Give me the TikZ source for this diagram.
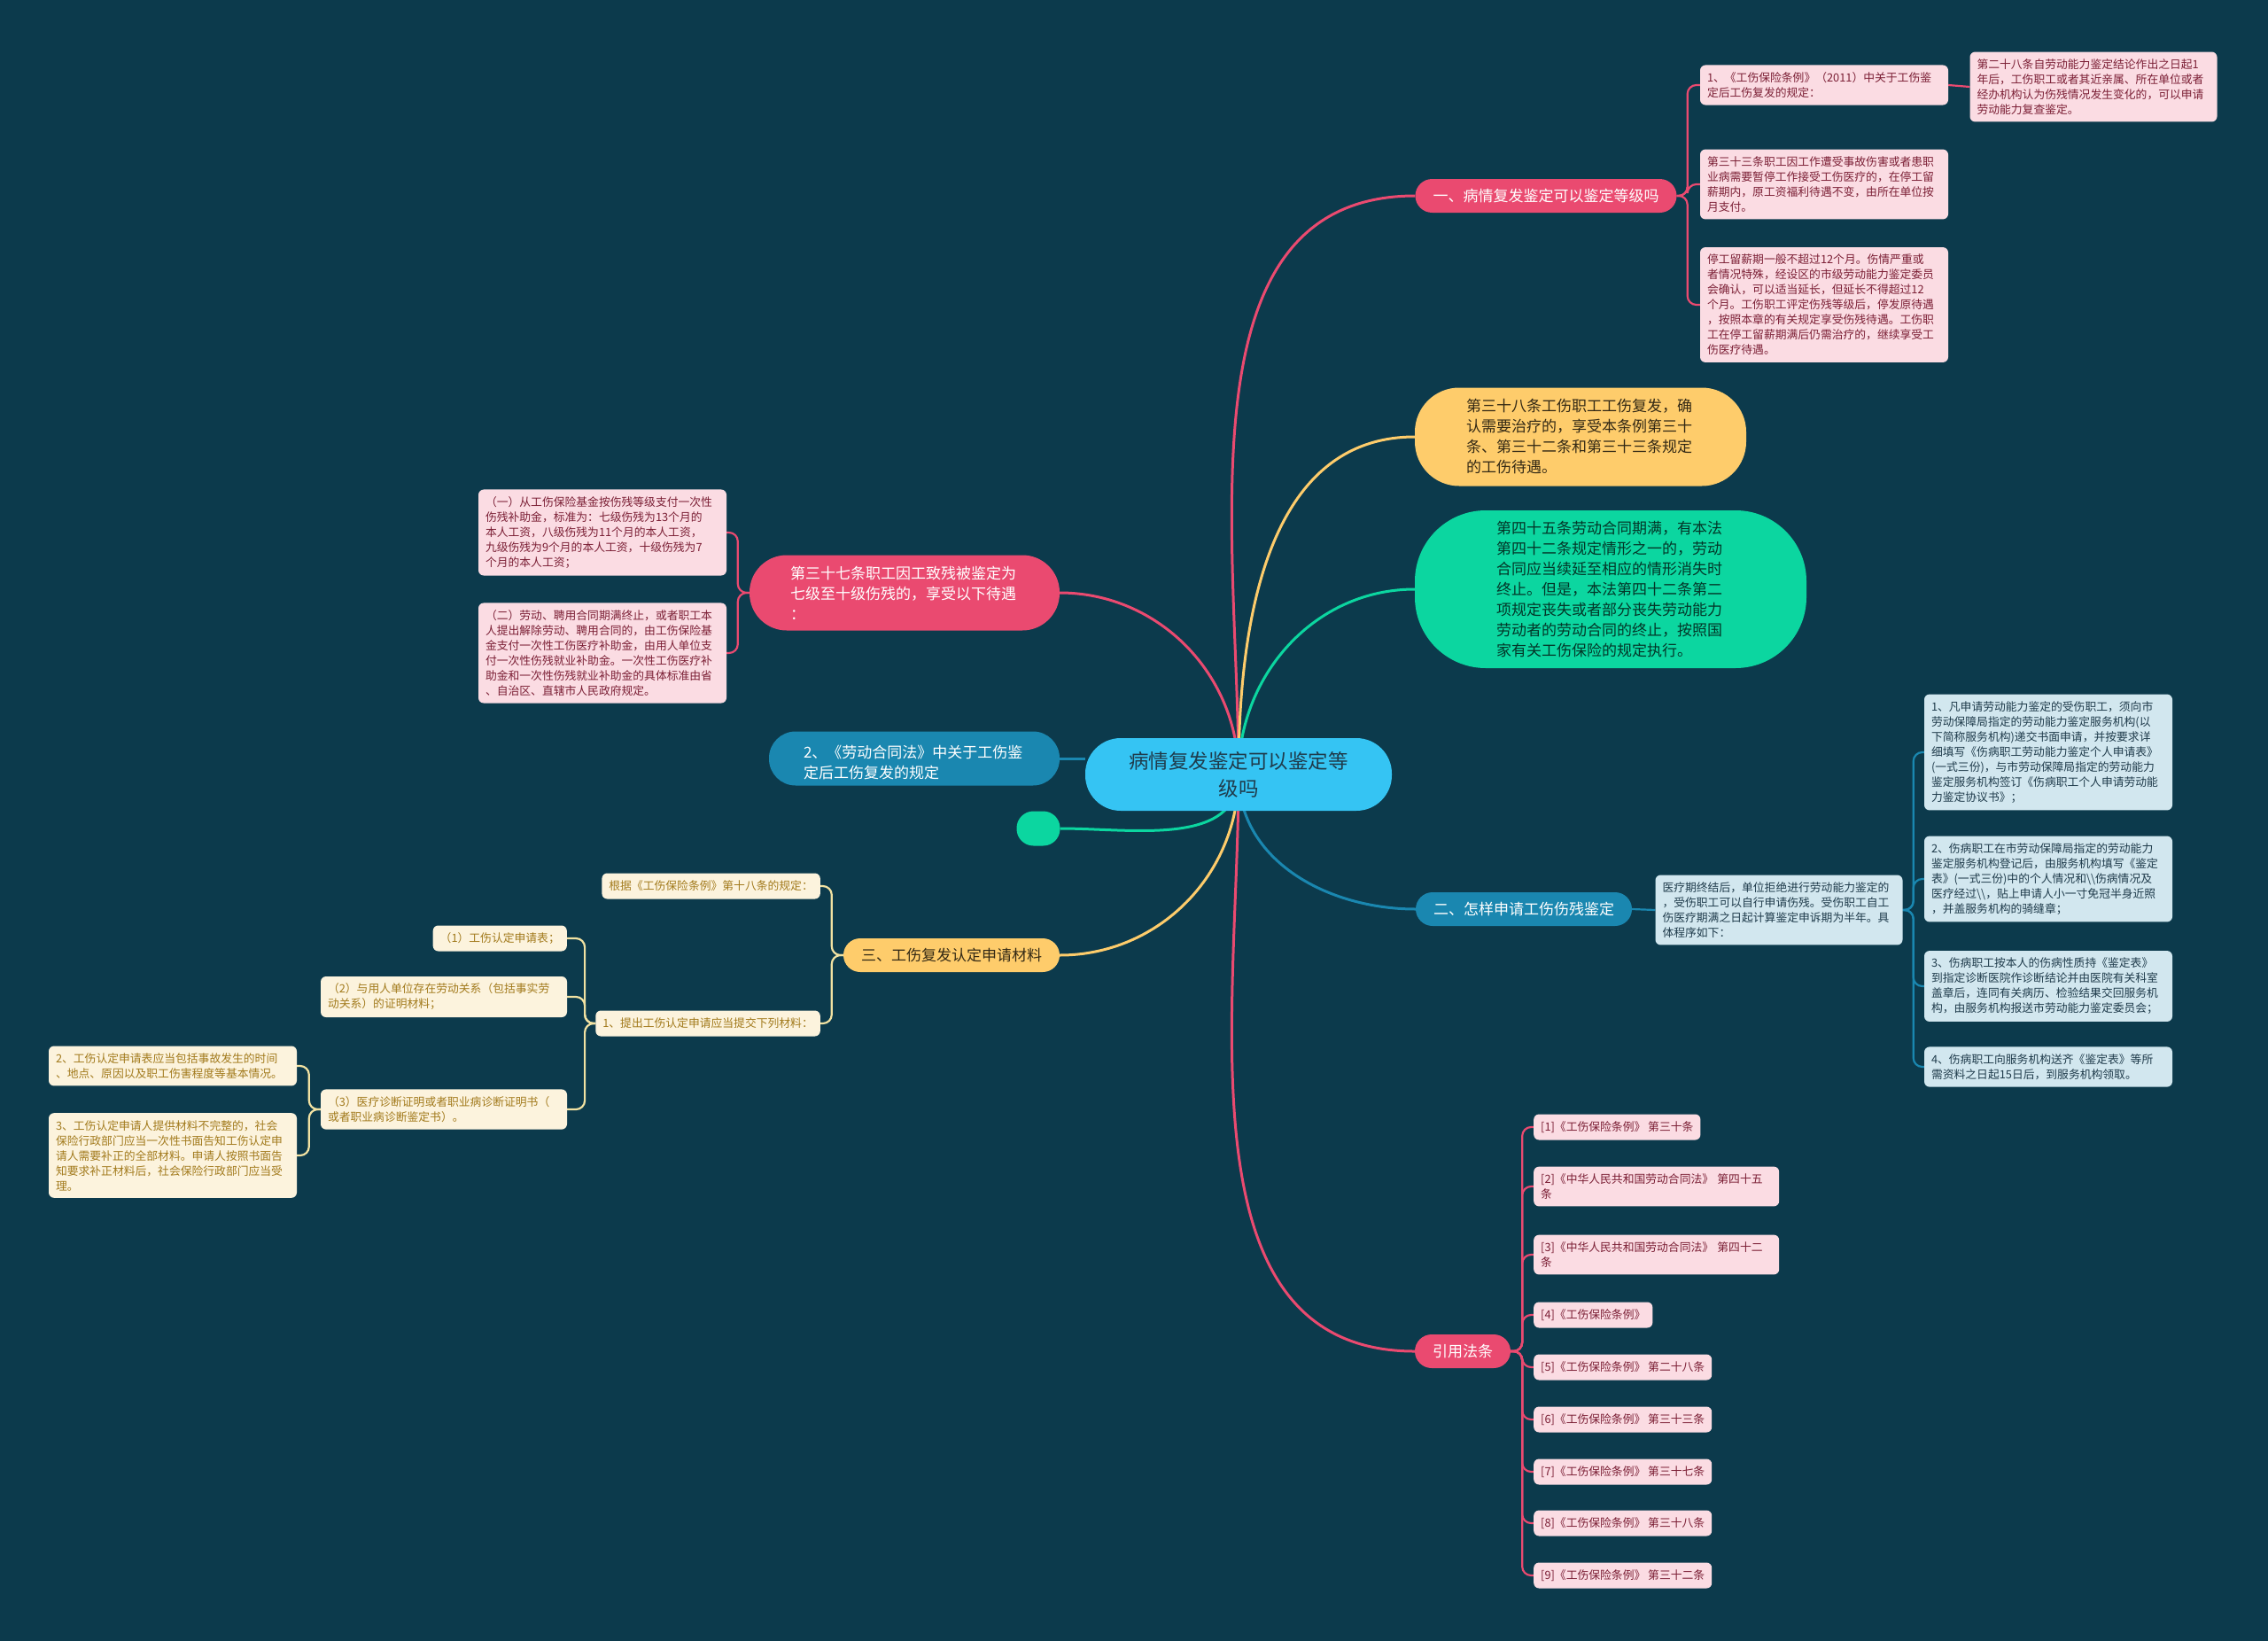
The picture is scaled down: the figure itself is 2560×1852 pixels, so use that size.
\documentclass[tikz,border=0pt]{standalone}
\usepackage{fontspec}
\setmainfont{Noto Sans CJK SC}
\pgfdeclarelayer{bgLayer}
\pgfdeclarelayer{edgeLayer}
\pgfsetlayers{bgLayer,edgeLayer,main}
\definecolor{bgColor}{HTML}{0C3A4C}
\definecolor{pinkMain}{HTML}{EA4A70}
\definecolor{pinkFill}{HTML}{FBDCE3}
\definecolor{pinkText}{HTML}{7B1F35}
\definecolor{yellowMain}{HTML}{FECC6B}
\definecolor{yellowLine}{HTML}{F2E2A2}
\definecolor{creamFill}{HTML}{FCF3DD}
\definecolor{creamText}{HTML}{A27A1C}
\definecolor{greenMain}{HTML}{0CD6A0}
\definecolor{blueMain}{HTML}{1A87B0}
\definecolor{blueFill}{HTML}{D2E7EF}
\definecolor{blueText}{HTML}{1F3B4B}
\definecolor{centerFill}{HTML}{35C4F3}
\newcommand{\boxFont}{\fontsize{12.8}{17}\selectfont}
\newcommand{\topicFont}{\fontsize{17}{23}\selectfont}
\newcommand{\rootFont}{\fontsize{22.5}{31}\selectfont}

\begin{document}
\begin{tikzpicture}[x=1pt,y=1pt]
\tikzstyle{smallBox}=[font=\boxFont, inner xsep=8pt, inner ysep=8pt, rounded corners=6pt, minimum height=29pt, align=left]
\tikzstyle{pinkBox}=[smallBox, fill=pinkFill, text=pinkText]
\tikzstyle{blueBox}=[smallBox, fill=blueFill, text=blueText]
\tikzstyle{creamBox}=[smallBox, fill=creamFill, text=creamText]
\tikzstyle{topicPill}=[font=\topicFont, inner xsep=20pt, inner ysep=8pt, minimum height=38pt, rounded corners=19pt]
\tikzstyle{pinkLine}=[draw=pinkMain, line width=2.2pt, rounded corners=10pt]
\tikzstyle{blueLine}=[draw=blueMain, line width=2.2pt, rounded corners=10pt]
\tikzstyle{creamLine}=[draw=yellowLine, line width=2.2pt, rounded corners=10pt]
\tikzstyle{mainLine}=[line width=3pt]
\useasboundingbox (0,0) rectangle (2560,-1852);
\begin{pgfonlayer}{bgLayer}
\fill[bgColor] (0,0) rectangle (2560,-1852);
\end{pgfonlayer}

\node[fill=centerFill, text=blueText, font=\rootFont, text width=250pt, align=center, inner xsep=48pt, minimum height=82pt, rounded corners=40pt] (root) at (1398,-874) {病情复发鉴定可以鉴定等\\级吗};

\node[topicPill, fill=pinkMain, text=white] (t1) at (1745,-221) {一、病情复发鉴定可以鉴定等级吗};
\node[pinkBox, text width=264pt] (t1a) at (2059,-96) {1、《工伤保险条例》（2011）中关于工伤鉴\\定后工伤复发的规定：};
\node[pinkBox, text width=263pt] (t1aa) at (2363,-98) {第二十八条自劳动能力鉴定结论作出之日起1\\年后，工伤职工或者其近亲属、所在单位或者\\经办机构认为伤残情况发生变化的，可以申请\\劳动能力复查鉴定。};
\node[pinkBox, text width=264pt] (t1b) at (2059,-208) {第三十三条职工因工作遭受事故伤害或者患职\\业病需要暂停工作接受工伤医疗的，在停工留\\薪期内，原工资福利待遇不变，由所在单位按\\月支付。};
\node[pinkBox, text width=264pt] (t1c) at (2059,-344) {停工留薪期一般不超过12个月。伤情严重或\\者情况特殊，经设区的市级劳动能力鉴定委员\\会确认，可以适当延长，但延长不得超过12\\个月。工伤职工评定伤残等级后，停发原待遇\\，按照本章的有关规定享受伤残待遇。工伤职\\工在停工留薪期满后仍需治疗的，继续享受工\\伤医疗待遇。};

\node[fill=yellowMain, text=black!80!yellowMain, font=\topicFont, text width=258pt, align=left, inner xsep=58pt, minimum height=111pt, rounded corners=50pt] (t2) at (1784,-493) {第三十八条工伤职工工伤复发，确\\认需要治疗的，享受本条例第三十\\条、第三十二条和第三十三条规定\\的工伤待遇。};
\node[fill=greenMain, text=black!75!greenMain, font=\topicFont, text width=258pt, align=left, inner xsep=92pt, minimum height=178pt, rounded corners=80pt] (t3) at (1818,-665) {第四十五条劳动合同期满，有本法\\第四十二条规定情形之一的，劳动\\合同应当续延至相应的情形消失时\\终止。但是，本法第四十二条第二\\项规定丧失或者部分丧失劳动能力\\劳动者的劳动合同的终止，按照国\\家有关工伤保险的规定执行。};

\node[topicPill, fill=blueMain, text=white] (t4) at (1720,-1026) {二、怎样申请工伤伤残鉴定};
\node[blueBox, text width=263pt] (t4a) at (2008,-1027) {医疗期终结后，单位拒绝进行劳动能力鉴定的\\，受伤职工可以自行申请伤残。受伤职工自工\\伤医疗期满之日起计算鉴定申诉期为半年。具\\体程序如下：};
\node[blueBox, text width=264pt] (s1) at (2312,-849) {1、凡申请劳动能力鉴定的受伤职工，须向市\\劳动保障局指定的劳动能力鉴定服务机构(以\\下简称服务机构)递交书面申请，并按要求详\\细填写《伤病职工劳动能力鉴定个人申请表》\\(一式三份)，与市劳动保障局指定的劳动能力\\鉴定服务机构签订《伤病职工个人申请劳动能\\力鉴定协议书》；};
\node[blueBox, text width=264pt] (s2) at (2312,-992) {2、伤病职工在市劳动保障局指定的劳动能力\\鉴定服务机构登记后，由服务机构填写《鉴定\\表》(一式三份)中的个人情况和{\textbackslash\textbackslash}伤病情况及\\医疗经过{\textbackslash\textbackslash}，贴上申请人小一寸免冠半身近照\\，并盖服务机构的骑缝章；};
\node[blueBox, text width=264pt] (s3) at (2312,-1113) {3、伤病职工按本人的伤病性质持《鉴定表》\\到指定诊断医院作诊断结论并由医院有关科室\\盖章后，连同有关病历、检验结果交回服务机\\构，由服务机构报送市劳动能力鉴定委员会；};
\node[blueBox, text width=264pt] (s4) at (2312,-1204) {4、伤病职工向服务机构送齐《鉴定表》等所\\需资料之日起15日后，到服务机构领取。};

\node[topicPill, fill=pinkMain, text=white] (t5) at (1651,-1525) {引用法条};
\node[pinkBox, anchor=west] (ref1) at (1731,-1272) {[1]《工伤保险条例》 第三十条};
\node[pinkBox, anchor=west, text width=261pt] (ref2) at (1731,-1339) {[2]《中华人民共和国劳动合同法》 第四十五\\条};
\node[pinkBox, anchor=west, text width=261pt] (ref3) at (1731,-1416) {[3]《中华人民共和国劳动合同法》 第四十二\\条};
\node[pinkBox, anchor=west] (ref4) at (1731,-1484) {[4]《工伤保险条例》};
\node[pinkBox, anchor=west] (ref5) at (1731,-1543) {[5]《工伤保险条例》 第二十八条};
\node[pinkBox, anchor=west] (ref6) at (1731,-1602) {[6]《工伤保险条例》 第三十三条};
\node[pinkBox, anchor=west] (ref7) at (1731,-1661) {[7]《工伤保险条例》 第三十七条};
\node[pinkBox, anchor=west] (ref8) at (1731,-1719) {[8]《工伤保险条例》 第三十八条};
\node[pinkBox, anchor=west] (ref9) at (1731,-1778) {[9]《工伤保险条例》 第三十二条};

\node[fill=pinkMain, text=white, font=\topicFont, text width=258pt, align=left, inner xsep=46pt, minimum height=85pt, rounded corners=42pt] (u1) at (1021,-669) {第三十七条职工因工致残被鉴定为\\七级至十级伤残的，享受以下待遇\\：};
\node[pinkBox, text width=264pt] (u1a) at (680,-601) {（一）从工伤保险基金按伤残等级支付一次性\\伤残补助金，标准为：七级伤残为13个月的\\本人工资，八级伤残为11个月的本人工资，\\九级伤残为9个月的本人工资，十级伤残为7\\个月的本人工资；};
\node[pinkBox, text width=264pt] (u1b) at (680,-737) {（二）劳动、聘用合同期满终止，或者职工本\\人提出解除劳动、聘用合同的，由工伤保险基\\金支付一次性工伤医疗补助金，由用人单位支\\付一次性伤残就业补助金。一次性工伤医疗补\\助金和一次性伤残就业补助金的具体标准由省\\、自治区、直辖市人民政府规定。};

\node[fill=blueMain, text=white, font=\topicFont, text width=250pt, align=left, inner xsep=39pt, minimum height=61pt, rounded corners=30pt] (u2) at (1032,-856) {\hspace{4pt}2、《劳动合同法》中关于工伤鉴\\定后工伤复发的规定};
\node[fill=greenMain, minimum width=49pt, minimum height=39pt, rounded corners=19pt] (u3) at (1172,-935) {};

\node[topicPill, fill=yellowMain, text=black!80!yellowMain] (u4) at (1074,-1078) {三、工伤复发认定申请材料};
\node[creamBox, anchor=east] (u4a) at (926,-1000) {根据《工伤保险条例》第十八条的规定：};
\node[creamBox, anchor=east] (u4b) at (926,-1155) {1、提出工伤认定申请应当提交下列材料：};
\node[creamBox, anchor=east] (m1) at (640,-1059) {（1）工伤认定申请表；};
\node[creamBox, text width=262pt] (m2) at (501,-1125) {（2）与用人单位存在劳动关系（包括事实劳\\动关系）的证明材料；};
\node[creamBox, text width=262pt] (m3) at (501,-1252) {（3）医疗诊断证明或者职业病诊断证明书（\\或者职业病诊断鉴定书）。};
\node[creamBox, text width=264pt] (m3a) at (195,-1203) {2、工伤认定申请表应当包括事故发生的时间\\、地点、原因以及职工伤害程度等基本情况。};
\node[creamBox, text width=264pt] (m3b) at (195,-1304) {3、工伤认定申请人提供材料不完整的，社会\\保险行政部门应当一次性书面告知工伤认定申\\请人需要补正的全部材料。申请人按照书面告\\知要求补正材料后，社会保险行政部门应当受\\理。};

\begin{pgfonlayer}{edgeLayer}
\draw[mainLine, pinkMain] (root.center) to[out=90,in=180] (t1.west);
\draw[mainLine, yellowMain] (root.center) to[out=90,in=180] (t2.west);
\draw[mainLine, greenMain] (root.center) to[out=90,in=180] (t3.west);
\draw[mainLine, blueMain] (root.center) to[out=-90,in=180] (t4.west);
\draw[mainLine, pinkMain] (root.center) to[out=-90,in=180] (t5.west);
\draw[mainLine, pinkMain] (root.center) to[out=90,in=0] (u1.east);
\draw[mainLine, blueMain] (u2.east) -- (u2.east -| root.west);
\draw[mainLine, greenMain] (root.center) to[out=-90,in=0] (u3.east);
\draw[mainLine, yellowMain] (root.center) to[out=-90,in=0] (u4.east);
\foreach \k in {t1a,t1b,t1c} \draw[pinkLine] (t1.east) -- ++(12,0) |- (\k.west);
\draw[pinkLine] (t1a.east) -- (t1aa.west);
\draw[blueLine] (t4.east) -- (t4a.west);
\foreach \k in {s1,s2,s3,s4} \draw[blueLine] (t4a.east) -- ++(12,0) |- (\k.west);
\foreach \k in {ref1,ref2,ref3,ref4,ref5,ref6,ref7,ref8,ref9} \draw[pinkLine] (t5.east) -- ++(13,0) |- (\k.west);
\foreach \k in {u1a,u1b} \draw[pinkLine] (u1.west) -- ++(-13,0) |- (\k.east);
\foreach \k in {u4a,u4b} \draw[creamLine] (u4.west) -- ++(-13,0) |- (\k.east);
\foreach \k in {m1,m2,m3} \draw[creamLine] (u4b.west) -- ++(-12,0) |- (\k.east);
\foreach \k in {m3a,m3b} \draw[creamLine] (m3.west) -- ++(-13,0) |- (\k.east);
\end{pgfonlayer}
\end{tikzpicture}
\end{document}
